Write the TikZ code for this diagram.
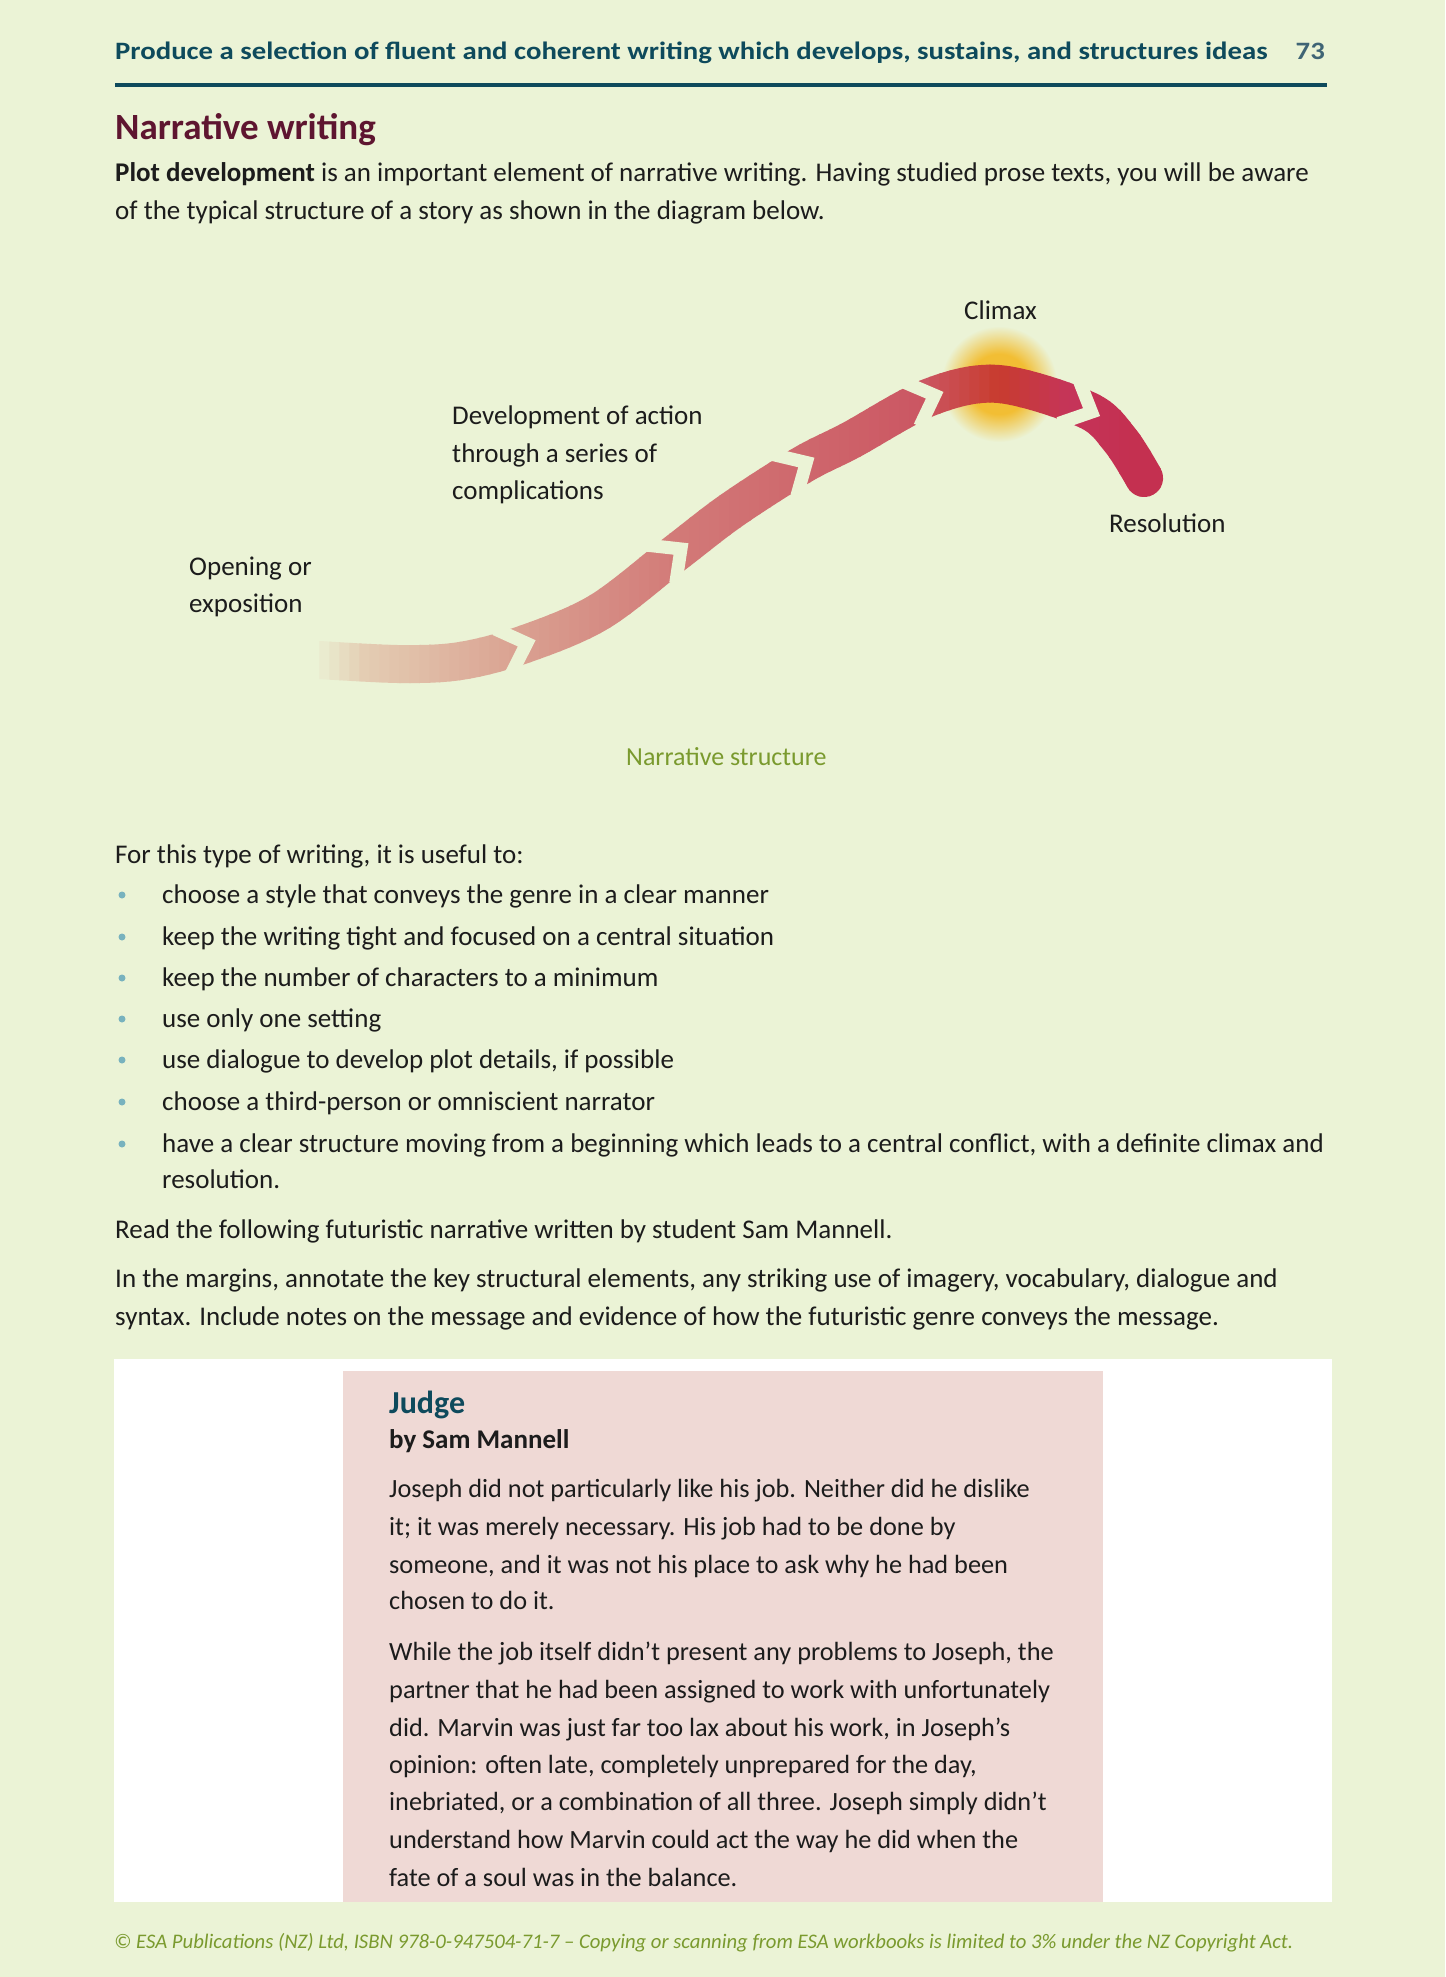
\documentclass[tikz,border=0pt]{standalone}
\usepackage{fontspec}
\setmainfont{Carlito}
\newfontfamily\headfont{Carlito}[FakeStretch=1.15]

\definecolor{pagegreen}{HTML}{EBF3D6}
\definecolor{headteal}{HTML}{0E4A5C}
\definecolor{numteal}{HTML}{3F6475}
\definecolor{titlemaroon}{HTML}{5E1530}
\definecolor{bulletblue}{HTML}{78B2BE}
\definecolor{captiongreen}{HTML}{7A9A2E}
\definecolor{storypink}{HTML}{EFD9D5}
\definecolor{inkblack}{HTML}{1C1C1C}
\definecolor{ribA}{HTML}{E4CDB3}
\definecolor{ribB}{HTML}{DAA292}
\definecolor{ribC}{HTML}{D27A78}
\definecolor{ribD}{HTML}{CB5662}
\definecolor{ribE}{HTML}{C83C2E}
\definecolor{ribF}{HTML}{C5345A}
\definecolor{ribG}{HTML}{C43050}
\definecolor{glowyellow}{HTML}{F2BE34}

\pgfdeclareradialshading{climaxglow}{\pgfpoint{0bp}{0bp}}{color(0bp)=(glowyellow);
	color(13bp)=(glowyellow); color(25bp)=(pagegreen); color(50bp)=(pagegreen)}

\tikzstyle{bodytext} = [inner sep=0pt, anchor=base west, text=inkblack,
	font=\fontsize{27}{32}\selectfont]
\tikzstyle{storytext} = [bodytext, font=\fontsize{26.3}{31}\selectfont]
\tikzstyle{piece} = [line width=3.8pt, line cap=round]
\tikzstyle{gapline} = [draw=pagegreen, line width=13pt, line join=miter]

\newcommand{\ribbonline}{plot[smooth, tension=0.55] coordinates {(320,-660) (400,-664)
	(460,-661) (522,-645) (599,-612) (677,-552) (732,-510) (802,-465) (851,-440)
	(930,-397) (999,-384) (1087,-410) (1120,-440) (1144,-478)}}

% colour of the strip starting at x = #1
\newcommand{\ribbonmix}[1]{%
	\pgfmathsetmacro{\rt}{#1+5}%
	\ifdim\rt pt<365pt \pgfmathsetmacro{\rmix}{max(0,min(100,(\rt-315)/50*100))}\colorlet{rcol}{ribA!\rmix!pagegreen}%
	\else\ifdim\rt pt<515pt \pgfmathsetmacro{\rmix}{(\rt-365)/150*100}\colorlet{rcol}{ribB!\rmix!ribA}%
	\else\ifdim\rt pt<677pt \pgfmathsetmacro{\rmix}{(\rt-515)/162*100}\colorlet{rcol}{ribC!\rmix!ribB}%
	\else\ifdim\rt pt<925pt \pgfmathsetmacro{\rmix}{(\rt-677)/248*100}\colorlet{rcol}{ribD!\rmix!ribC}%
	\else\ifdim\rt pt<999pt \pgfmathsetmacro{\rmix}{(\rt-925)/74*100}\colorlet{rcol}{ribE!\rmix!ribD}%
	\else\ifdim\rt pt<1070pt \pgfmathsetmacro{\rmix}{(\rt-999)/71*100}\colorlet{rcol}{ribF!\rmix!ribE}%
	\else \pgfmathsetmacro{\rmix}{min(100,(\rt-1070)/60*100)}\colorlet{rcol}{ribG!\rmix!ribF}%
	\fi\fi\fi\fi\fi\fi}

\newcommand{\ribbongap}[2]{\draw[gapline, shift={#1}, rotate=#2] (-20,24) -- (5,0) -- (-20,-24)}

\begin{document}
\begin{tikzpicture}[x=1pt, y=1pt]
	\useasboundingbox (0,0) rectangle (1445,-1977);
	\fill[pagegreen] (0,0) rectangle (1445,-1977);

	\node[bodytext, text=headteal, font=\headfont\bfseries\fontsize{25}{30}\selectfont] (head) at (115,-60)
		{Produce a selection of fluent and coherent writing which develops, sustains, and structures ideas};
	\node[bodytext, anchor=base east, text=numteal, font=\headfont\bfseries\fontsize{25}{30}\selectfont] (pagenum) at (1325,-60) {73};
	\draw[headteal, line width=4pt] (115,-85.3) -- (1327,-85.3);

	\node[bodytext, text=titlemaroon, font=\bfseries\fontsize{37}{40}\selectfont] (title) at (115,-140) {Narrative writing};
	\node[bodytext] (intro1) at (115,-182) {\textbf{Plot development} is an important element of narrative writing. Having studied prose texts, you will be aware};
	\node[bodytext] (intro2) at (115,-220) {of the typical structure of a story as shown in the diagram below.};

	% narrative arc, drawn at a tenth and scaled up
	\shade[shading=climaxglow] (999,-384) circle (58);
	\begin{scope}[x=0.1pt, y=0.1pt, transform canvas={scale=10}]
		\foreach \k in {0,...,86} {
			\pgfmathsetmacro{\xa}{300+10*\k}
			\ribbonmix{\xa}
			\begin{scope}
				\clip ({\xa-0.6},-330) rectangle ({\xa+10.6},-720);
				\draw[piece, rcol] \ribbonline;
			\end{scope}
		}
	\end{scope}
	\ribbongap{(522,-645)}{19.4};
	\ribbongap{(677,-552)}{37.5};
	\ribbongap{(802,-465)}{30.5};
	\ribbongap{(930,-397)}{20.7};
	\ribbongap{(1087,-410)}{-24.8};

	\node[bodytext] (climax) at (964,-319) {Climax};
	\node[bodytext] (devel1) at (452,-424) {Development of action};
	\node[bodytext] (devel2) at (452,-462) {through a series of};
	\node[bodytext] (devel3) at (452,-499) {complications};
	\node[bodytext] (open1) at (189,-575) {Opening or};
	\node[bodytext] (open2) at (189,-612) {exposition};
	\node[bodytext] (resol) at (1109,-532) {Resolution};
	\node[bodytext, text=captiongreen, font=\fontsize{26}{31}\selectfont] (caption) at (626,-765) {Narrative structure};

	\node[bodytext] (lead) at (115,-863) {For this type of writing, it is useful to:};
	\foreach \y/\words [count=\i] in {903/{choose a style that conveys the genre in a clear manner},
		945/{keep the writing tight and focused on a central situation},
		986/{keep the number of characters to a minimum},
		1027/{use only one setting},
		1068/{use dialogue to develop plot details, if possible},
		1110/{choose a third-person or omniscient narrator},
		1152/{have a clear structure moving from a beginning which leads to a central conflict, with a definite climax and}} {
		\fill[bulletblue] (122,{-\y+8}) circle (3.5);
		\node[bodytext] (item\i) at (162,-\y) {\words};
	}
	\node[bodytext] (item8) at (162,-1188) {resolution.};
	\node[bodytext] (read) at (115,-1238) {Read the following futuristic narrative written by student Sam Mannell.};
	\node[bodytext] (task1) at (115,-1287) {In the margins, annotate the key structural elements, any striking use of imagery, vocabulary, dialogue and};
	\node[bodytext] (task2) at (115,-1325) {syntax. Include notes on the message and evidence of how the futuristic genre conveys the message.};

	% story extract
	\fill[white] (114,-1359) rectangle (1332,-1902);
	\fill[storypink] (343,-1371) rectangle (1103,-1902);
	\node[bodytext, text=headteal, font=\bfseries\fontsize{32}{36}\selectfont] (judge) at (389,-1413) {Judge};
	\node[bodytext, font=\bfseries\fontsize{27}{32}\selectfont] (byline) at (389,-1448) {by Sam Mannell};
	\foreach \y/\words [count=\i] in {1497/{Joseph did not particularly like his job. Neither did he dislike},
		1535/{it; it was merely necessary. His job had to be done by},
		1573/{someone, and it was not his place to ask why he had been},
		1609/{chosen to do it.},
		1660/{While the job itself didn’t present any problems to Joseph, the},
		1698/{partner that he had been assigned to work with unfortunately},
		1736/{did. Marvin was just far too lax about his work, in Joseph’s},
		1773/{opinion: often late, completely unprepared for the day,},
		1810/{inebriated, or a combination of all three. Joseph simply didn’t},
		1848/{understand how Marvin could act the way he did when the},
		1886/{fate of a soul was in the balance.}}
		\node[storytext] (story\i) at (389,-\y) {\words};

	\node[bodytext, text=captiongreen, font=\itshape\fontsize{20.7}{24}\selectfont] (footer) at (114,-1948)
		{© ESA Publications (NZ) Ltd, ISBN 978-0-947504-71-7 – Copying or scanning from ESA workbooks is limited to 3\% under the NZ Copyright Act.};
\end{tikzpicture}
\end{document}
